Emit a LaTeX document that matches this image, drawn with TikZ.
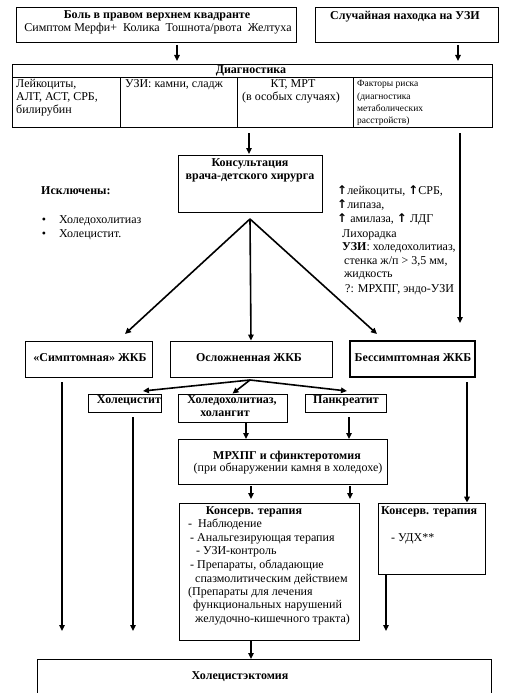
\documentclass[tikz,border=0pt]{standalone}
\usepackage{fontspec}
\setmainfont{Liberation Serif}
\newfontfamily\symfont{DejaVu Sans}
\usetikzlibrary{arrows.meta}
\newcommand{\upar}{{\symfont\bfseries ↑}}
\begin{document}
\begin{tikzpicture}[x=1pt,y=-1pt,
  box/.style={draw, line width=0.8pt, inner sep=0pt},
  arr/.style={line width=1.6pt, -{Triangle[length=6pt,width=5.5pt]}},
  txt/.style={inner sep=0pt, text height=8.5pt, text depth=2.6pt, font=\fontsize{12}{13.5}\selectfont},
  bf/.style={inner sep=0pt, text height=8.5pt, text depth=2.6pt, font=\fontsize{12}{13.5}\selectfont\bfseries},
  sm/.style={inner sep=0pt, text height=7pt, text depth=2.2pt, font=\fontsize{9.5}{12}\selectfont}]
\useasboundingbox (0,0) rectangle (505,693);
\fill[white] (0,0) rectangle (505,693);

% top boxes
\node[box, minimum width=280pt, minimum height=35pt] (b1) at (156,24.5) {};
\node[bf] (b1t) at (157,16) {Боль в правом верхнем квадранте};
\node[txt] (b1s) at (158,29) {Симптом Мерфи+ \ Колика \ Тошнота/рвота \ Желтуха};
\node[box, minimum width=183pt, minimum height=35pt] (b2) at (406.5,24.5) {};
\node[bf] (b2t) at (405,17) {Случайная находка на УЗИ};

% diagnostics table
\node[box, minimum width=480pt, minimum height=63pt] (diag) at (252,95.5) {};
\draw[line width=0.8pt] (12,77) -- (492,77);
\draw[line width=0.8pt] (120,77) -- (120,127);
\draw[line width=0.8pt] (237,77) -- (237,127);
\draw[line width=0.8pt] (353,77) -- (353,127);
\node[bf] (dh) at (251,71) {Диагностика};
\node[txt, anchor=west] (d1a) at (16,85) {Лейкоциты,};
\node[txt, anchor=west] (d1b) at (16,98) {АЛТ, АСТ, СРБ,};
\node[txt, anchor=west] (d1c) at (16,111) {билирубин};
\node[txt, anchor=west] (d2) at (125,85) {УЗИ: камни, сладж};
\node[txt] (d3a) at (293,85) {КТ, МРТ};
\node[txt] (d3b) at (291,98) {(в особых случаях)};
\node[sm, anchor=west] (d4a) at (357,84) {Факторы риска};
\node[sm, anchor=west] (d4b) at (357,97) {(диагностика};
\node[sm, anchor=west] (d4c) at (357,109) {метаболических};
\node[sm, anchor=west] (d4d) at (357,121) {расстройств)};

\coordinate (a1s) at (177,45); \coordinate (a1e) at (177,61);
\coordinate (a2s) at (458,45); \coordinate (a2e) at (458,61);
\draw[arr] (a1s) -- (a1e);
\draw[arr] (a2s) -- (a2e);

% consultation
\node[box, minimum width=144pt, minimum height=57pt] (cons) at (250,183.5) {};
\node[bf] (ct1) at (250,164) {Консультация};
\node[bf] (ct2) at (250,177) {врача-детского хирурга};
\coordinate (a3s) at (249,133); \coordinate (a3e) at (249,154);
\draw[arr] (a3s) -- (a3e);
\coordinate (a4s) at (460,133); \coordinate (a4e) at (460,323);
\draw[arr] (a4s) -- (a4e);

% left text
\node[bf, anchor=west] (ex) at (41,192) {Исключены:};
\node[txt] (bu1) at (44,221) {•};
\node[txt] (bu2) at (44,235) {•};
\node[txt, anchor=west] (ex1) at (59,221) {Холедохолитиаз};
\node[txt, anchor=west] (ex2) at (59,235) {Холецистит.};

% right text
\node[txt, anchor=west] (r1) at (337,192) {\upar лейкоциты, \upar СРБ,};
\node[txt, anchor=west] (r2) at (337,206) {\upar липаза,};
\node[txt, anchor=west] (r3) at (337,220) {\upar\ амилаза, \upar\ ЛДГ};
\node[txt, anchor=west] (r4) at (342,235) {Лихорадка};
\node[txt, anchor=west] (r5) at (342,248) {\textbf{УЗИ}: холедохолитиаз,};
\node[txt, anchor=west] (r6) at (344,262) {стенка ж/п > 3,5 мм,};
\node[txt, anchor=west] (r7) at (344,275) {жидкость};
\node[txt, anchor=west] (r8) at (345,290) {?: МРХПГ, эндо-УЗИ};

% row of three
\node[box, minimum width=127pt, minimum height=36pt] (S) at (88.5,359) {};
\node[bf] (St) at (90,359) {«Симптомная» ЖКБ};
\node[box, minimum width=162pt, minimum height=36pt] (O) at (251,359) {};
\node[bf] (Ot) at (249,359) {Осложненная ЖКБ};
\node[box, line width=1.3pt, minimum width=125pt, minimum height=36pt] (B) at (412.5,359) {};
\node[bf] (Bt) at (413,359) {Бессимптомная ЖКБ};

\coordinate (fan) at (250,219);
\coordinate (fl) at (125,334);
\coordinate (fr) at (377,334);
\draw[arr] (fan) -- (fl);
\draw[arr] (fan) -- (O.north);
\draw[arr] (fan) -- (fr);

% sub row
\node[box, minimum width=73pt, minimum height=18pt] (H1) at (124.5,403) {};
\node[bf] (H1t) at (129,401) {Холецистит};
\node[box, minimum width=109pt, minimum height=28pt] (H2) at (232.5,408) {};
\node[bf] (H2a) at (232,401) {Холедохолитиаз,};
\node[bf] (H2b) at (225,414) {холангит};
\node[box, minimum width=81pt, minimum height=18pt] (H3) at (345.5,403) {};
\node[bf] (H3t) at (346,401) {Панкреатит};

\coordinate (fan2) at (250,380);
\coordinate (f2l) at (143,391);
\coordinate (f2r) at (347,391);
\draw[arr] (fan2) -- (f2l);
\draw[arr] (fan2) -- (H2.north);
\draw[arr] (fan2) -- (f2r);

% long verticals
\coordinate (v1s) at (62,382); \coordinate (v1e) at (62,631);
\draw[arr] (v1s) -- (v1e);
\coordinate (v2s) at (133,417); \coordinate (v2e) at (133,631);
\draw[arr] (v2s) -- (v2e);
\coordinate (v3s) at (467,382);

% MRCP
\node[box, minimum width=209pt, minimum height=45pt] (M) at (282.5,461.5) {};
\node[bf] (Mt) at (287,457) {МРХПГ и сфинктеротомия};
\node[txt] (Ms) at (288,469) {(при обнаружении камня в холедохе)};
\coordinate (m1s) at (246,423); \coordinate (m1e) at (246,439);
\draw[arr] (m1s) -- (m1e);
\coordinate (m2s) at (349,417); \coordinate (m2e) at (349,439);
\draw[arr] (m2s) -- (m2e);

% conservative boxes
\node[box, minimum width=180pt, minimum height=137pt] (K1) at (269,571.5) {};
\node[bf] (K1t) at (254,512) {Консерв. терапия};
\node[txt, anchor=west] (k1) at (188,525) {- \ Наблюдение};
\node[txt, anchor=west] (k2) at (190,539) {- Анальгезирующая терапия};
\node[txt, anchor=west] (k3) at (196,552) {- УЗИ-контроль};
\node[txt, anchor=west] (k4) at (190,566) {- Препараты, обладающие};
\node[txt, anchor=west] (k5) at (195,580) {спазмолитическим действием};
\node[txt, anchor=west] (k6) at (188,593) {(Препараты для лечения};
\node[txt, anchor=west] (k7) at (193,606) {функциональных нарушений};
\node[txt, anchor=west] (k8) at (195,620) {желудочно-кишечного тракта)};

\node[box, minimum width=107pt, minimum height=71pt] (K2) at (431.5,538.5) {};
\node[bf, anchor=west] (K2t) at (381,512) {Консерв. терапия};
\node[txt, anchor=west] (K2s) at (391,539) {- УДХ**};

\draw[arr] (v3s) -- (K2.north -| v3s);
\coordinate (c1s) at (251,486); \coordinate (c1e) at (251,499);
\coordinate (c2s) at (350,486); \coordinate (c2e) at (350,499);
\draw[arr] (c1s) -- (c1e);
\draw[arr] (c2s) -- (c2e);
\coordinate (k2s) at (386,575); \coordinate (k2e) at (386,631);
\draw[arr] (k2s) -- (k2e);

% bottom
\node[box, minimum width=454pt, minimum height=60pt, anchor=north west] (X) at (37,659) {};
\node[bf] (Xt) at (240,677) {Холецистэктомия};
\coordinate (x1s) at (251,641);
\draw[arr] (x1s) -- (X.north -| x1s);
\end{tikzpicture}
\end{document}
